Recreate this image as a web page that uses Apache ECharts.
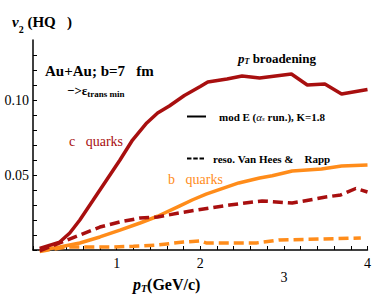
<!DOCTYPE html>
<html><head><meta charset="utf-8">
<script src="https://cdn.jsdelivr.net/npm/echarts@6/dist/echarts.min.js"></script>
<style>html,body{margin:0;padding:0;background:#fff}#c{width:374px;height:297px}</style>
</head><body><div id="c"></div>
<script>
// c quarks, mod E (solid)
const cSolidPt = [0.08,0.32,0.44,0.56,0.72,0.88,1.04,1.19,1.36,1.49,1.63,1.81,2.0,2.09,2.32,2.5,2.71,3.09,3.28,3.49,3.69,4.0];
const cSolidV  = [0.001,0.0053,0.0113,0.020,0.0333,0.0467,0.060,0.0733,0.0847,0.0913,0.096,0.103,0.109,0.112,0.114,0.116,0.1147,0.1173,0.110,0.1107,0.104,0.107];
// c quarks, reso. (dashed)
const cDashPt = [0.08,0.32,0.56,0.8,1.04,1.28,1.49,1.75,2.0,2.35,2.74,3.1,3.5,3.68,3.86,4.0];
const cDashV  = [-0.0005,0.0047,0.010,0.0153,0.0187,0.0213,0.022,0.0247,0.027,0.030,0.0327,0.0313,0.0353,0.0367,0.041,0.0387];
// b quarks, mod E (solid)
const bSolidPt = [0.1,0.32,0.56,0.8,1.04,1.28,1.49,1.75,1.91,2.07,2.46,2.71,2.86,3.1,3.45,3.69,4.0];
const bSolidV  = [0.0,0.002,0.0047,0.0087,0.0133,0.018,0.0225,0.0293,0.0335,0.0372,0.0447,0.048,0.0495,0.0527,0.054,0.056,0.0567];
// b quarks, reso. (dashed)
const bDashPt = [0.08,0.4,0.96,1.2,1.48,1.8,2.0,2.07,2.67,2.94,3.45,3.92];
const bDashV  = [-0.001,0.002,0.002,0.0025,0.0033,0.0053,0.006,0.0047,0.0047,0.0067,0.0073,0.008];
const xTickLabels = ['1','2','3','4'];
const yTickLabels = ['0.05','0.10'];

const RED = '#a80f0f', ORANGE = '#ff8c1a';
const SERIF = 'Liberation Serif, Times New Roman, serif';
const zip = (a,b) => a.map((x,i)=>[x,b[i]]);

const chart = echarts.init(document.getElementById('c'), null, {renderer:'svg'});
chart.setOption({
  animation:false,
  grid:{left:33,right:6,top:40,bottom:47},
  xAxis:{
    type:'value',min:0,max:4,interval:0.2,
    axisLine:{lineStyle:{color:'#000',width:1.5}},
    axisTick:{inside:true,length:4,lineStyle:{color:'#000',width:1}},
    splitLine:{show:false},
    axisLabel:{
      fontFamily:SERIF,fontSize:14,color:'#000',margin:6,
      formatter:v=>{const s=xTickLabels.find(t=>Math.abs(+t-v)<1e-6);if(!s)return '';return s==='3'?'{low|3}':s;},
      rich:{low:{fontFamily:SERIF,fontSize:14,color:'#000',padding:[14,0,0,0]}}
    }
  },
  yAxis:{
    type:'value',min:0,max:0.14,interval:0.01,
    axisLine:{lineStyle:{color:'#000',width:1.5}},
    axisTick:{inside:true,length:4,lineStyle:{color:'#000',width:1}},
    splitLine:{show:false},
    axisLabel:{
      fontFamily:SERIF,fontSize:14,color:'#000',margin:4,showMaxLabel:false,
      formatter:v=>{const s=yTickLabels.find(t=>Math.abs(+t-v)<1e-6);return s||'';}
    }
  },
  legend:[
    {left:182,top:106,itemWidth:19,itemHeight:2,itemGap:0,
     data:[{name:'mod E',icon:'rect'}],
     formatter:()=>'{a|mod E (}{i|α}{s|s}{a| run.), K=1.8}',
     textStyle:{padding:[0,0,0,8],rich:{a:{fontFamily:SERIF,fontWeight:'bold',fontSize:11,color:'#000'},i:{fontFamily:SERIF,fontStyle:'italic',fontSize:11,color:'#000'},s:{fontFamily:SERIF,fontStyle:'italic',fontSize:7,color:'#000',padding:[5,0,0,0]}}}},
    {left:182,top:148,itemWidth:17,itemHeight:2,itemGap:0,
     data:[{name:'reso.',icon:'path://M0,0h5v2h-5zM7,0h5v2h-5zM14,0h5v2h-5z'}],
     formatter:()=>'reso. Van Hees &    Rapp',
     textStyle:{fontFamily:SERIF,fontWeight:'bold',fontSize:11,color:'#000',padding:[0,0,0,4]}}
  ],
  title:[
    {left:7,top:5,text:'{v|v}{s|2}{b| (HQ   )}',
     textStyle:{rich:{v:{fontFamily:SERIF,fontStyle:'italic',fontWeight:'bold',fontSize:15,color:'#000'},s:{fontFamily:SERIF,fontWeight:'bold',fontSize:10,color:'#000',padding:[14,0,0,0]},b:{fontFamily:SERIF,fontWeight:'bold',fontSize:15,color:'#000'}}}},
    {left:128,top:270,text:'{p|p}{t|T}{b|(GeV/c)}',
     textStyle:{rich:{p:{fontFamily:SERIF,fontStyle:'italic',fontWeight:'bold',fontSize:16,color:'#000'},t:{fontFamily:SERIF,fontStyle:'italic',fontWeight:'bold',fontSize:10,color:'#000',padding:[8,0,0,0]},b:{fontFamily:SERIF,fontWeight:'bold',fontSize:16,color:'#000'}}}},
    {left:40,top:58,text:'Au+Au; b=7   fm',textStyle:{fontFamily:SERIF,fontWeight:'bold',fontSize:15,color:'#000'}},
    {left:62,top:78,text:'{a|−>ε}{s|trans min}',
     textStyle:{rich:{a:{fontFamily:SERIF,fontWeight:'bold',fontSize:13,color:'#000'},s:{fontFamily:SERIF,fontWeight:'bold',fontSize:9,color:'#000',padding:[6,0,0,0]}}}},
    {left:233,top:46,text:'{p|p}{t|T}{b| broadening}',
     textStyle:{rich:{p:{fontFamily:SERIF,fontStyle:'italic',fontWeight:'bold',fontSize:13,color:'#000'},t:{fontFamily:SERIF,fontStyle:'italic',fontWeight:'bold',fontSize:8,color:'#000',padding:[6,0,0,0]},b:{fontFamily:SERIF,fontWeight:'bold',fontSize:13,color:'#000'}}}},
    {left:64,top:129,text:'c   quarks',textStyle:{fontFamily:SERIF,fontWeight:'normal',fontSize:14,color:RED}},
    {left:163,top:167,text:'b   quarks',textStyle:{fontFamily:SERIF,fontWeight:'normal',fontSize:14,color:ORANGE}}
  ],
  series:[
    {name:'c solid',type:'line',clip:false,symbol:'none',data:zip(cSolidPt,cSolidV),lineStyle:{color:RED,width:3.5},z:4},
    {name:'b solid',type:'line',clip:false,symbol:'none',data:zip(bSolidPt,bSolidV),lineStyle:{color:ORANGE,width:3.5},z:3},
    {name:'c dash',type:'line',clip:false,symbol:'none',data:zip(cDashPt,cDashV),lineStyle:{color:RED,width:3.5,type:[10,5]},z:5},
    {name:'b dash',type:'line',clip:false,symbol:'none',data:zip(bDashPt,bDashV),lineStyle:{color:ORANGE,width:3.5,type:[10,5]},z:2},
    {name:'mod E',type:'line',symbol:'none',data:[],lineStyle:{color:'#000',width:2},itemStyle:{color:'#000'}},
    {name:'reso.',type:'line',symbol:'none',data:[],lineStyle:{color:'#000',width:2,type:[6,3]},itemStyle:{color:'#000'}}
  ]
});
</script></body></html>
